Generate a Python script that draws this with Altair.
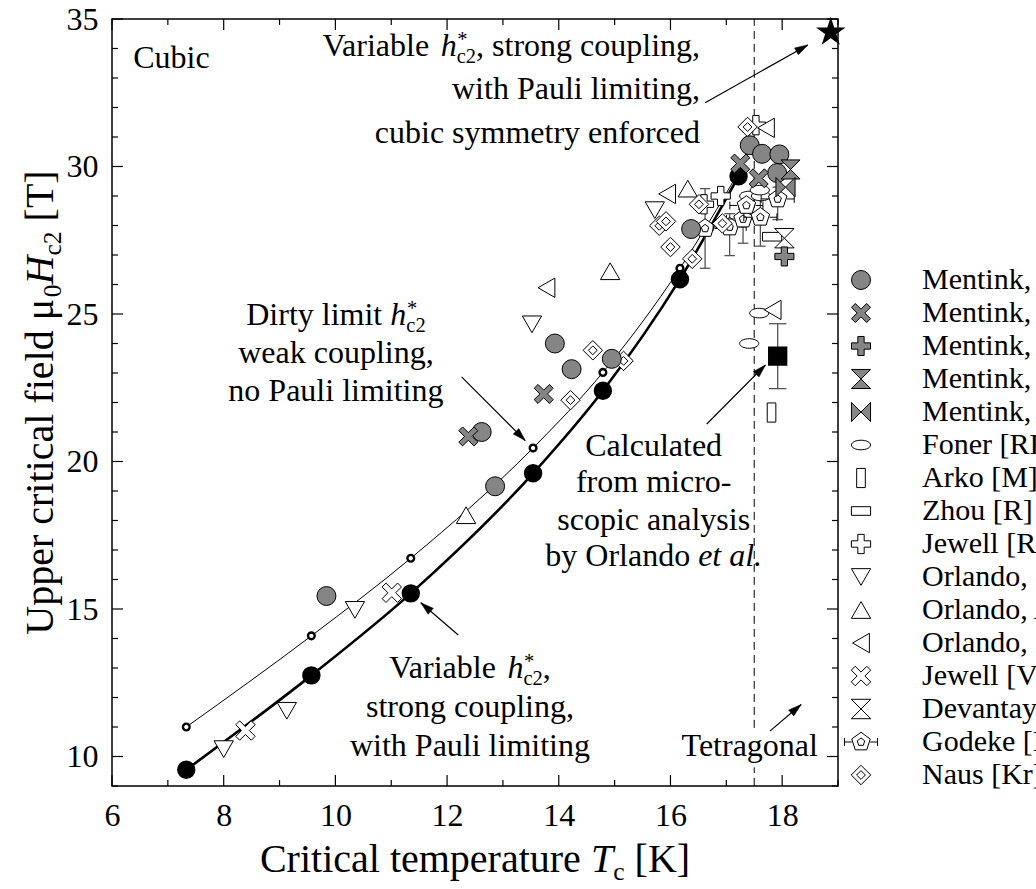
import math
import altair as alt
import pandas as pd

# ------------------------------------------------------------------ data
SERIES = ["Mentink,", "Mentink, ", "Mentink,  ", "Mentink,   ", "Mentink,    ",
          "Foner [RF", "Arko [M]", "Zhou [R]", "Jewell [R]", "Orlando, c", "Orlando, A",
          "Orlando, s", "Jewell [V", "Devantay", "Godeke [I", "Naus [Kr]"]

m1_T = [9.84, 12.86, 12.62, 13.93, 14.23, 14.95, 16.37, 17.42, 17.64, 17.95, 17.91]
m1_H = [15.44, 19.16, 21.00, 24.00, 23.13, 23.48, 27.88, 30.72, 30.43, 30.41, 29.78]
m2_T = [12.38, 13.73, 17.25, 17.58]
m2_H = [20.85, 22.29, 30.10, 29.60]
m3_T = [18.04]; m3_H = [26.95]
m4_T = [18.15]; m4_H = [29.90]
m5_T = [18.06]; m5_H = [29.30]
foner_T = [17.41, 17.62, 17.60, 17.59, 17.41]
foner_H = [29.00, 29.00, 29.20, 25.03, 24.00]
arko_T = [17.81]; arko_H = [21.66]
zhou_T = [17.82]; zhou_H = [27.62]
jewR_T = [17.53, 16.60, 16.90]
jewR_H = [31.40, 28.72, 29.00]
orlc_T = [8.00, 9.13, 10.35, 13.52, 15.72]
orlc_H = [10.25, 11.55, 14.97, 24.65, 28.52]
orlA_T = [12.34, 14.92, 16.31]
orlA_H = [18.18, 26.45, 29.25]
orls_T = [13.78, 15.94, 17.71, 17.83]
orls_H = [25.89, 29.07, 31.31, 25.14]
jewV_T = [8.39, 11.01]
jewV_H = [10.88, 15.55]
dev_T = [18.04]; dev_H = [27.57]
god_T = [16.62, 17.06, 17.30, 17.36, 17.61, 17.92]
god_H = [27.90, 27.95, 28.22, 28.68, 28.28, 28.90]
god_lo = [26.55, 26.98, 27.40, 28.20, 27.30, 28.20]
god_hi = [29.25, 28.40, 28.55, 29.10, 29.05, 29.30]
naus_T = [17.38, 15.80, 15.92, 16.00, 16.51, 16.39, 16.93, 14.61, 14.21, 15.16]
naus_H = [31.34, 27.99, 28.14, 27.27, 28.72, 26.87, 28.07, 23.77, 22.08, 23.41]

strong_T = [7.33, 9.57, 11.35, 13.54, 14.79, 16.17, 17.22]
strong_H = [9.55, 12.75, 15.53, 19.60, 22.40, 26.18, 29.67]
dirty_T = [7.33, 9.57, 11.35, 13.54, 14.79, 16.17, 17.22]
dirty_H = [11.00, 14.09, 16.72, 20.46, 23.02, 26.55, 29.80]

calc_T = [17.92]; calc_H = [23.57]; calc_lo = [22.47]; calc_hi = [24.67]
star_T = [18.87]; star_H = [34.55]

x_ticks_major = [6, 8, 10, 12, 14, 16, 18]
x_ticks_minor = [7, 9, 11, 13, 15, 17, 19]
y_ticks_major = [10, 15, 20, 25, 30, 35]
y_ticks_minor = [9, 11, 12, 13, 14, 16, 17, 18, 19, 21, 22, 23, 24, 26, 27, 28, 29, 31, 32, 33, 34]

# arrows: start T, start H, tip T, tip H
arr_T1 = [16.62, 12.26, 12.20, 16.65, 17.78]
arr_H1 = [32.16, 22.87, 14.12, 21.27, 10.86]
arr_T2 = [18.46, 13.40, 11.53, 17.70, 18.34]
arr_H2 = [34.12, 20.71, 15.21, 23.27, 11.76]

dash_T = [17.5, 17.5]
dash_H1 = [9.0, 10.97]
dash_H2 = [9.63, 35.0]

# ------------------------------------------------------------------ layout / style
W, H = 726, 767
XD, YD = [6, 19], [9, 35]
PXK = W / (XD[1] - XD[0])
PXT = H / (YD[1] - YD[0])
SERIF = "Liberation Serif"
GRAY = "#858585"
EB = "#555555"

XS = alt.Scale(domain=XD, nice=False, zero=False)
YS = alt.Scale(domain=YD, nice=False, zero=False)
AXX = alt.Axis(values=x_ticks_major, title=None, ticks=False, tickSize=0, domain=False, grid=False,
               labelFont=SERIF, labelFontSize=32, labelColor="black", labelPadding=14,
               labelFlush=False, labelOverlap=False)
AXY = alt.Axis(values=y_ticks_major, title=None, ticks=False, tickSize=0, domain=False, grid=False,
               labelFont=SERIF, labelFontSize=32, labelColor="black", labelPadding=14,
               labelFlush=False, labelOverlap=False)


def X(f="T"):
    return alt.X(f"{f}:Q", scale=XS, axis=AXX)


def Y(f="H"):
    return alt.Y(f"{f}:Q", scale=YS, axis=AXY)


# symbol paths ([-1,1] box)
P_X = "M-1,-0.6L-0.6,-1L0,-0.4L0.6,-1L1,-0.6L0.4,0L1,0.6L0.6,1L0,0.4L-0.6,1L-1,0.6L-0.4,0Z"
P_PLUS = "M-0.33,-1L0.33,-1L0.33,-0.33L1,-0.33L1,0.33L0.33,0.33L0.33,1L-0.33,1L-0.33,0.33L-1,0.33L-1,-0.33L-0.33,-0.33Z"
P_HOUR = "M-1,-1L1,-1L0,0ZM0,0L1,1L-1,1Z"
P_BOW = "M-1,-1L0,0L-1,1ZM1,-1L0,0L1,1Z"
P_ELL = "M-1,0A1,0.5,0,1,0,1,0A1,0.5,0,1,0,-1,0Z"
P_TALL = "M-0.45,-1L0.45,-1L0.45,1L-0.45,1Z"
P_WIDE = "M-1,-0.45L1,-0.45L1,0.45L-1,0.45Z"
P_PENT = ("M0,-1L0.951,-0.309L0.588,0.809L-0.588,0.809L-0.951,-0.309Z"
          "M0,-0.42L0.38,-0.12L0.24,0.34L-0.24,0.34L-0.38,-0.12Z"
          "M-1.7,0L-0.95,0M0.95,0L1.7,0M-1.7,-0.4L-1.7,0.4M1.7,-0.4L1.7,0.4")
P_DIAM = "M0,-1L1,0L0,1L-1,0ZM0,-0.45L0.45,0L0,0.45L-0.45,0Z"
P_STAR = ("M0,-1L0.225,-0.309L0.951,-0.309L0.363,0.118L0.588,0.809L0,0.382L-0.588,0.809"
          "L-0.363,0.118L-0.951,-0.309L-0.225,-0.309Z")
P_HEAD = "M0,0L0.6,2L-0.6,2Z"
P_CAP = "M-1,0L1,0"

shapes = ["circle", P_X, P_PLUS, P_HOUR, P_BOW, P_ELL, P_TALL, P_WIDE, P_PLUS,
          "triangle-down", "triangle-up", "triangle-left", P_X, P_HOUR, P_PENT, P_DIAM]
fills = [GRAY] * 5 + ["white"] * 11
strokes = ["black"] * 16
sizes = [360, 380, 380, 300, 300, 140, 150, 150, 170, 150, 150, 150, 140, 130, 200, 190]

groups = [(m1_T, m1_H), (m2_T, m2_H), (m3_T, m3_H), (m4_T, m4_H), (m5_T, m5_H),
          (foner_T, foner_H), (arko_T, arko_H), (zhou_T, zhou_H), (jewR_T, jewR_H),
          (orlc_T, orlc_H), (orlA_T, orlA_H), (orls_T, orls_H), (jewV_T, jewV_H),
          (dev_T, dev_H), (god_T, god_H), (naus_T, naus_H)]
rows = []
# open symbols first, grey Mentink symbols drawn on top
for idx in list(range(5, 16)) + list(range(0, 5)):
    tt, hh = groups[idx]
    for t, h in zip(tt, hh):
        rows.append({"T": t, "H": h, "series": SERIES[idx]})
pts = pd.DataFrame(rows)

layers = []

# frame ticks (inward)
def tick_layer(vals, axis, length, side):
    d = pd.DataFrame({"v": vals})
    m = alt.Chart(d).mark_rule(color="black", strokeWidth=1.2)
    if axis == "x":
        if side == "bottom":
            return m.encode(x=X("v"), y=alt.value(H), y2=alt.value(H - length))
        return m.encode(x=X("v"), y=alt.value(0), y2=alt.value(length))
    if side == "left":
        return m.encode(y=Y("v"), x=alt.value(0), x2=alt.value(length))
    return m.encode(y=Y("v"), x=alt.value(W), x2=alt.value(W - length))


# dashed tetragonal boundary (first layer: carries both axes)
dash = pd.DataFrame({"T": dash_T, "H1": dash_H1, "H2": dash_H2})
layers.append(alt.Chart(dash).mark_rule(color="black", strokeWidth=1, strokeDash=[8, 5]).encode(
    x=X("T"), y=Y("H1"), y2="H2:Q"))

for side in ["bottom", "top"]:
    layers.append(tick_layer(x_ticks_major, "x", 11, side))
    layers.append(tick_layer(x_ticks_minor, "x", 6, side))
for side in ["left", "right"]:
    layers.append(tick_layer(y_ticks_major, "y", 11, side))
    layers.append(tick_layer(y_ticks_minor, "y", 6, side))

# curves
sdf = pd.DataFrame({"T": strong_T, "H": strong_H})
ddf = pd.DataFrame({"T": dirty_T, "H": dirty_H})
layers.append(alt.Chart(ddf).mark_line(color="black", strokeWidth=1, interpolate="monotone").encode(x=X(), y=Y()))
layers.append(alt.Chart(sdf).mark_line(color="black", strokeWidth=2.6, interpolate="monotone").encode(x=X(), y=Y()))

# error bars (Godeke and calculated)
gdf = pd.DataFrame({"T": god_T, "lo": god_lo, "hi": god_hi})
layers.append(alt.Chart(gdf).mark_rule(color=EB, strokeWidth=1.3).encode(x=X(), y=Y("lo"), y2="hi:Q"))
for f in ["lo", "hi"]:
    layers.append(alt.Chart(gdf).mark_point(shape=P_CAP, size=110, stroke=EB, strokeWidth=1.3, opacity=1,
                                            filled=False).encode(x=X(), y=Y(f)))
cdf = pd.DataFrame({"T": calc_T, "H": calc_H, "lo": calc_lo, "hi": calc_hi})
layers.append(alt.Chart(cdf).mark_rule(color=EB, strokeWidth=1.3).encode(x=X(), y=Y("lo"), y2="hi:Q"))
for f in ["lo", "hi"]:
    layers.append(alt.Chart(cdf).mark_point(shape=P_CAP, size=300, stroke=EB, strokeWidth=1.3, opacity=1,
                                            filled=False).encode(x=X(), y=Y(f)))

# curve markers
layers.append(alt.Chart(ddf).mark_point(shape="circle", size=45, filled=True, fill="white", stroke="black",
                                        strokeWidth=2.4, opacity=1).encode(x=X(), y=Y()))
layers.append(alt.Chart(sdf).mark_point(shape="circle", size=270, filled=True, fill="black", stroke="black",
                                        opacity=1).encode(x=X(), y=Y()))

# data sets with legend
legend = alt.Legend(orient="none", legendX=734, legendY=246, title=None, labelFont=SERIF, labelFontSize=30,
                    labelColor="black", labelOffset=46, rowPadding=3, padding=0, labelLimit=300,
                    symbolStrokeWidth=1, symbolOpacity=1)
layers.append(alt.Chart(pts).mark_point(filled=True, strokeWidth=1, opacity=1, fillOpacity=1).encode(
    x=X(), y=Y(),
    shape=alt.Shape("series:N", scale=alt.Scale(domain=SERIES, range=shapes), legend=legend),
    fill=alt.Fill("series:N", scale=alt.Scale(domain=SERIES, range=fills), legend=legend),
    stroke=alt.Stroke("series:N", scale=alt.Scale(domain=SERIES, range=strokes), legend=legend),
    size=alt.Size("series:N", scale=alt.Scale(domain=SERIES, range=sizes), legend=legend),
))

# calculated value and star
layers.append(alt.Chart(cdf).mark_point(shape="square", size=300, filled=True, fill="black", stroke="black",
                                        opacity=1).encode(x=X(), y=Y()))
stdf = pd.DataFrame({"T": star_T, "H": star_H})
layers.append(alt.Chart(stdf).mark_point(shape=P_STAR, size=600, filled=True, fill="black", stroke="black",
                                         opacity=1).encode(x=X(), y=Y()))

# arrows
ang = []
for t1, h1, t2, h2 in zip(arr_T1, arr_H1, arr_T2, arr_H2):
    dxp = (t2 - t1) * PXK
    dyp = -(h2 - h1) * PXT
    ang.append(math.degrees(math.atan2(dxp, -dyp)) % 360)
adf = pd.DataFrame({"T1": arr_T1, "H1": arr_H1, "T2": arr_T2, "H2": arr_H2, "ang": ang})
layers.append(alt.Chart(adf).mark_rule(color="black", strokeWidth=1.2).encode(
    x=X("T1"), y=Y("H1"), x2="T2:Q", y2="H2:Q"))
layers.append(alt.Chart(adf).mark_point(shape=P_HEAD, size=170, filled=True, fill="black", stroke="black",
                                        strokeWidth=0.5, opacity=1).encode(
    x=X("T2"), y=Y("H2"), angle=alt.Angle("ang:Q", scale=None)))

# ------------------------------------------------------------------ rich text helpers
REG = {' ': 250, '!': 333, ',': 250, '-': 333, '.': 250, '*': 500, '[': 333, ']': 333,
       'A': 722, 'B': 667, 'C': 667, 'D': 722, 'E': 611, 'F': 556, 'G': 722, 'H': 722, 'I': 333,
       'J': 389, 'K': 722, 'L': 611, 'M': 889, 'N': 722, 'O': 722, 'P': 556, 'Q': 722, 'R': 667,
       'S': 556, 'T': 611, 'U': 722, 'V': 722, 'W': 944, 'X': 722, 'Y': 722, 'Z': 611,
       'a': 444, 'b': 500, 'c': 444, 'd': 500, 'e': 444, 'f': 333, 'g': 500, 'h': 500, 'i': 278,
       'j': 278, 'k': 500, 'l': 278, 'm': 778, 'n': 500, 'o': 500, 'p': 500, 'q': 500, 'r': 333,
       's': 389, 't': 278, 'u': 500, 'v': 500, 'w': 722, 'x': 500, 'y': 500, 'z': 444, 'μ': 576}
ITA = {' ': 250, '.': 250, ',': 250, 'H': 722, 'T': 556, 'h': 500, 'e': 444, 't': 278, 'a': 500,
       'l': 278, 'c': 444}
SUBF = 0.64


def tw(s, fs, italic=False):
    tab = ITA if italic else REG
    return sum(tab.get(c, 500) for c in s) * fs / 1000.0


def rich(pieces, fs, align, pos, angle=0):
    """pieces: list of (kind, text[, text2]); pos: ('d', T, H) or ('p', x, y) (text centre line)."""
    items = []
    off = 0.0
    for p in pieces:
        kind = p[0]
        if kind in ("n", "i"):
            txt = p[1]
            ital = kind == "i"
            lead = len(txt) - len(txt.lstrip(" "))
            off += tw(" " * lead, fs, ital)
            body = txt.lstrip(" ")
            items.append((body, off, 0.0, fs, "italic" if ital else "normal"))
            off += tw(body, fs, ital)
        elif kind == "sub":
            items.append((p[1], off, 0.20 * fs, fs * SUBF, "normal"))
            off += tw(p[1], fs * SUBF)
        elif kind == "stack":
            items.append((p[1], off + 0.02 * fs, -0.30 * fs, fs * SUBF, "normal"))
            items.append((p[2], off, 0.24 * fs, fs * SUBF, "normal"))
            off += max(tw(p[1], fs * SUBF), tw(p[2], fs * SUBF))
    total = off
    start = {"left": 0.0, "center": -total / 2, "right": -total}[align]
    out = []
    for txt, o, dy, size, style in items:
        if not txt.strip():
            continue
        d = pd.DataFrame({"T": [pos[1]], "H": [pos[2]], "label": [txt]})
        m = alt.Chart(d).mark_text(align="left", baseline="alphabetic", font=SERIF, fontSize=size,
                                   fontStyle=style, color="black", dx=start + o, dy=0.33 * fs + dy,
                                   angle=angle)
        if pos[0] == "d":
            out.append(m.encode(x=X(), y=Y(), text="label:N"))
        else:
            out.append(m.encode(x=alt.value(pos[1]), y=alt.value(pos[2]), text="label:N"))
    return out


AFS = 32
# top annotation (right aligned)
top_lines = [[("n", "Variable "), ("i", "h"), ("stack", "*", "c2"), ("n", ", strong coupling,")],
             [("n", "with Pauli limiting,")],
             [("n", "cubic symmetry enforced")]]
top_T = 16.53
top_H = [34.12, 32.63, 31.17]
for ln, hh in zip(top_lines, top_H):
    layers += rich(ln, AFS, "right", ("d", top_T, hh))

layers += rich([("n", "Cubic")], AFS, "left", ("d", 6.38, 33.71))

dirty_lines = [[("n", "Dirty limit "), ("i", "h"), ("stack", "*", "c2")],
               [("n", "weak coupling,")],
               [("n", "no Pauli limiting")]]
for ln, hh in zip(dirty_lines, [25.0, 23.71, 22.42]):
    layers += rich(ln, AFS, "center", ("d", 10.01, hh))

varb_lines = [[("n", "Variable "), ("i", "h"), ("stack", "*", "c2"), ("n", ",")],
              [("n", "strong coupling,")],
              [("n", "with Pauli limiting")]]
for ln, hh in zip(varb_lines, [13.03, 11.71, 10.39]):
    layers += rich(ln, AFS, "center", ("d", 12.41, hh))

calc_lines = [[("n", "Calculated")], [("n", "from micro-")], [("n", "scopic analysis")],
              [("n", "by Orlando "), ("i", "et al.")]]
for ln, hh in zip(calc_lines, [20.56, 19.31, 18.05, 16.80]):
    layers += rich(ln, AFS, "center", ("d", 15.70, hh))

layers += rich([("n", "Tetragonal")], AFS, "center", ("d", 17.44, 10.36))

# axis titles
TFS = 40
layers += rich([("n", "Critical temperature "), ("i", "T"), ("sub", "c"), ("n", " [K]")], TFS, "center",
               ("p", W / 2, 840))
layers += rich([("n", "Upper critical field μ"), ("sub", "0"), ("i", "H"), ("sub", "c2"), ("n", " [T]")],
               TFS, "center", ("p", -72, H / 2), angle=270)

chart = alt.layer(*layers).properties(
    width=W, height=H,
    padding={"left": 112, "top": 19, "right": 198, "bottom": 103},
    autosize=alt.AutoSizeParams(type="none"),
    background="white",
).configure_view(stroke="black", strokeWidth=1.5)

chart.save("out.html", embed_options={"renderer": "svg", "actions": False})
